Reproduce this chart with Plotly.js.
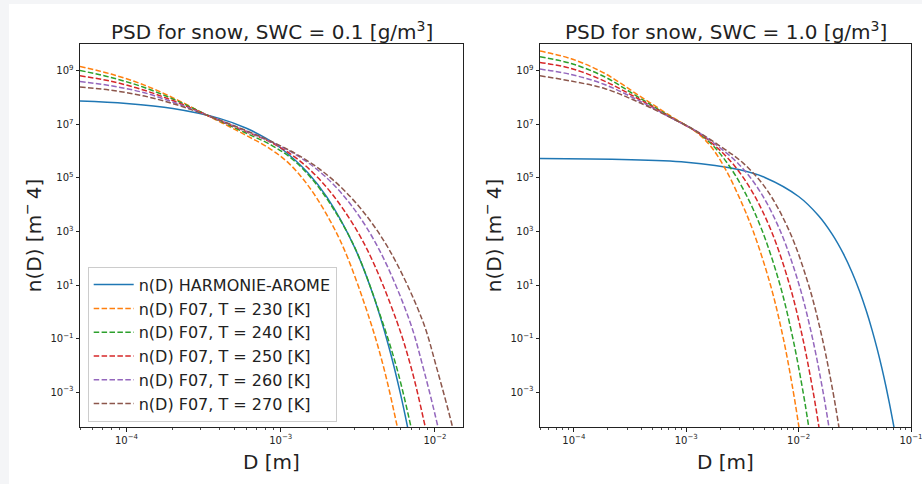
<!DOCTYPE html>
<html><head><meta charset="utf-8">
<script src="https://cdn.plot.ly/plotly-3.0.1.min.js"></script>
<style>
html,body{margin:0;padding:0;background:#f4f5f7;width:922px;height:484px;overflow:hidden}
#chart{position:absolute;left:9px;top:4px;width:913px;height:480px;background:#fff}
</style>
</head><body><div id="chart"></div>
<script>
// ---------- data ----------
const seriesNames = ['n(D) HARMONIE-AROME','n(D) F07, T = 230 [K]','n(D) F07, T = 240 [K]',
                     'n(D) F07, T = 250 [K]','n(D) F07, T = 260 [K]','n(D) F07, T = 270 [K]'];
const panelTitles = ['PSD for snow, SWC = 0.1 [g/m<sup>3</sup>]','PSD for snow, SWC = 1.0 [g/m<sup>3</sup>]'];
const xLabel = 'D [m]';
const yLabel = 'n(D) [m<sup>−</sup>\u20094]';

// Left panel: SWC = 0.1 g/m3
const left_harmonie_D = [5e-5,1e-4,2e-4,4e-4,6e-4,8e-4,1e-3,1.5e-3,2e-3,3e-3,4e-3,5e-3,6e-3,7e-3];
const left_harmonie_n = [7.38e7,5.97e7,3.90e7,1.67e7,7.14e6,3.05e6,1.31e6,1.57e5,1.87e4,269,3.85,0.0552,7.91e-4,1.14e-5];
const left_230_D = [5e-5,7.95e-5,1.307e-4,2.148e-4,3.528e-4,5.803e-4,8.628e-4,1.135e-3,1.494e-3,1.967e-3,2.588e-3,3.784e-3,4.696e-3,5.702e-3,6.03e-3];
const left_230_n = [1.447e9,7.53e8,2.92e8,8.05e7,1.834e7,4.25e6,1.170e6,3.42e5,5.50e4,4.72e3,206,0.501,6.80e-3,5.05e-5,1e-5];
const left_240_D = [5e-5,7.95e-5,1.307e-4,2.148e-4,3.528e-4,5.803e-4,8.628e-4,1.185e-3,1.628e-3,2.236e-3,3.072e-3,4.524e-3,5.702e-3,6.994e-3,7.41e-3];
const left_240_n = [1.026e9,5.62e8,2.38e8,7.39e7,1.914e7,5.05e6,1.72e6,5.12e5,7.93e4,6.01e3,206,0.501,6.80e-3,5.05e-5,1e-5];
const left_250_D = [5e-5,7.95e-5,1.307e-4,2.148e-4,3.528e-4,5.803e-4,8.628e-4,1.238e-3,1.774e-3,2.542e-3,3.646e-3,5.617e-3,7.077e-3,8.654e-3,9.19e-3];
const left_250_n = [6.51e8,4.05e8,1.87e8,6.55e7,1.914e7,5.74e6,2.14e6,5.93e5,9.21e4,6.83e3,206,0.501,6.80e-3,5.05e-5,1e-5];
const left_260_D = [5e-5,7.95e-5,1.307e-4,2.148e-4,3.528e-4,5.803e-4,8.628e-4,1.294e-3,1.939e-3,2.906e-3,4.359e-3,6.82e-3,8.463e-3,1.046e-2,1.110e-2];
const left_260_n = [3.99e8,2.75e8,1.51e8,5.86e7,1.914e7,6.00e6,2.23e6,6.63e5,1.147e5,8.62e3,206,0.501,6.80e-3,5.05e-5,1e-5];
const left_270_D = [5e-5,7.95e-5,1.307e-4,2.148e-4,3.528e-4,5.803e-4,8.628e-4,1.343e-3,2.089e-3,3.251e-3,5.06e-3,8.276e-3,1.035e-2,1.300e-2,1.384e-2];
const left_270_n = [2.46e8,1.87e8,1.136e8,5.24e7,1.914e7,6.26e6,2.33e6,6.35e5,1.053e5,7.98e3,206,0.501,6.80e-3,5.05e-5,1e-5];

// Right panel: SWC = 1.0 g/m3
const right_harmonie_D = [5e-5,1e-3,3e-3,5e-3,1e-2,1.5e-2,2e-2,2.5e-2,3e-2,3.5e-2,4e-2,4.5e-2,5e-2,5.5e-2,6e-2,6.5e-2,7e-2,7.5e-2];
const right_harmonie_n = [5.25e5,3.85e5,2.00e5,1.04e5,2.02e4,3.93e3,762,148,28.8,5.61,1.09,0.212,0.0412,8.02e-3,1.56e-3,3.03e-4,5.90e-5,1.15e-5];
const right_230_D = [5e-5,9.46e-5,1.875e-4,3.708e-4,7.333e-4,1.267e-3,1.680e-3,2.232e-3,2.964e-3,3.931e-3,5.612e-3,7.301e-3,8.974e-3,1.006e-2,1.065e-2];
const right_230_n = [5.44e9,2.81e9,8.07e8,1.269e8,2.00e7,4.63e6,1.390e6,2.132e5,1.869e4,1.058e3,10.2,0.104,1.026e-3,5.05e-5,1e-5];
const right_240_D = [5e-5,9.46e-5,1.875e-4,3.708e-4,7.333e-4,1.267e-3,1.761e-3,2.452e-3,3.412e-3,4.746e-3,6.827e-3,8.881e-3,1.0951e-2,1.230e-2,1.30e-2];
const right_240_n = [3.33e9,1.874e9,5.97e8,1.069e8,1.866e7,4.96e6,1.476e6,2.554e5,2.358e4,1.058e3,10.2,0.104,1.026e-3,5.05e-5,1e-5];
const right_250_D = [5e-5,9.46e-5,1.875e-4,3.708e-4,7.333e-4,1.267e-3,1.846e-3,2.689e-3,3.915e-3,5.706e-3,8.309e-3,1.0879e-2,1.3468e-2,1.5156e-2,1.603e-2];
const right_250_n = [2.04e9,1.219e9,4.12e8,9.24e7,1.803e7,4.96e6,1.455e6,2.831e5,2.777e4,1.058e3,10.2,0.104,1.026e-3,5.05e-5,1e-5];
const right_260_D = [5e-5,9.46e-5,1.875e-4,3.708e-4,7.333e-4,1.267e-3,1.931e-3,2.948e-3,4.498e-3,6.862e-3,1.0096e-2,1.3287e-2,1.6503e-2,1.860e-2,1.968e-2];
const right_260_n = [1.157e9,7.28e8,3.08e8,8.05e7,1.756e7,5.14e6,1.482e6,3.193e5,3.298e4,1.058e3,10.2,0.104,1.026e-3,5.05e-5,1e-5];
const right_270_D = [5e-5,9.46e-5,1.875e-4,3.708e-4,7.333e-4,1.267e-3,2.025e-3,3.232e-3,5.161e-3,8.248e-3,1.2262e-2,1.6225e-2,2.0217e-2,2.282e-2,2.413e-2];
const right_270_n = [6.51e8,4.12e8,2.18e8,6.95e7,1.756e7,5.27e6,1.488e6,3.494e5,3.816e4,1.058e3,10.2,0.104,1.026e-3,5.05e-5,1e-5];

// ticks
const yTickVals = [1e-3,1e-1,1e1,1e3,1e5,1e7,1e9];
const yTickText = ['10<sup>−3</sup>','10<sup>−1</sup>','10<sup>1</sup>','10<sup>3</sup>','10<sup>5</sup>','10<sup>7</sup>','10<sup>9</sup>'];
const xTickVals = [1e-4,1e-3,1e-2,1e-1];
const xTickText = ['10<sup>−4</sup>','10<sup>−3</sup>','10<sup>−2</sup>','10<sup>−1</sup>'];
const xMinorVals = [5e-5,6e-5,7e-5,8e-5,9e-5,
  2e-4,3e-4,4e-4,5e-4,6e-4,7e-4,8e-4,9e-4,
  2e-3,3e-3,4e-3,5e-3,6e-3,7e-3,8e-3,9e-3,
  2e-2,3e-2,4e-2,5e-2,6e-2,7e-2,8e-2,9e-2];

// ---------- styles ----------
const colors = ['#1f77b4','#ff7f0e','#2ca02c','#d62728','#9467bd','#8c564b'];
const dashes = ['solid','5.5px,2.4px','5.5px,2.4px','5.5px,2.4px','5.5px,2.4px','5.5px,2.4px'];
const FONT = 'DejaVu Sans, sans-serif';
const INK = '#222222';

const leftSets = [[left_harmonie_D,left_harmonie_n],[left_230_D,left_230_n],[left_240_D,left_240_n],
                  [left_250_D,left_250_n],[left_260_D,left_260_n],[left_270_D,left_270_n]];
const rightSets = [[right_harmonie_D,right_harmonie_n],[right_230_D,right_230_n],[right_240_D,right_240_n],
                   [right_250_D,right_250_n],[right_260_D,right_260_n],[right_270_D,right_270_n]];

const traces = [];
leftSets.forEach((s,i)=>traces.push({type:'scatter',mode:'lines',x:s[0],y:s[1],name:seriesNames[i],
  xaxis:'x',yaxis:'y',showlegend:true,hoverinfo:'skip',
  line:{color:colors[i],width:1.5,dash:dashes[i],shape:'spline',smoothing:1}}));
rightSets.forEach((s,i)=>traces.push({type:'scatter',mode:'lines',x:s[0],y:s[1],name:seriesNames[i],
  xaxis:'x2',yaxis:'y2',showlegend:false,hoverinfo:'skip',
  line:{color:colors[i],width:1.5,dash:dashes[i],shape:'spline',smoothing:1}}));

const W = 913, H = 480;
function xAxis(domain, range, anchor){
  return {type:'log',domain:domain,range:range,anchor:anchor,
    tickmode:'array',tickvals:xTickVals,ticktext:xTickText,ticklabeloverflow:'allow',
    ticks:'outside',ticklen:3.5,tickwidth:1,tickcolor:INK,
    showline:true,mirror:true,linecolor:INK,linewidth:1,
    showgrid:false,zeroline:false,fixedrange:true,
    tickfont:{family:FONT,size:10,color:INK},
    minor:{tickmode:'array',tickvals:xMinorVals,ticks:'outside',ticklen:2,tickwidth:0.8,tickcolor:INK,showgrid:false}};
}
function yAxis(domain, anchor){
  return {type:'log',domain:domain,range:[Math.log10(5e-5),10],anchor:anchor,
    tickmode:'array',tickvals:yTickVals,ticktext:yTickText,
    ticks:'outside',ticklen:3.5,tickwidth:1,tickcolor:INK,
    showline:true,mirror:true,linecolor:INK,linewidth:1,
    showgrid:false,zeroline:false,fixedrange:true,
    tickfont:{family:FONT,size:10,color:INK}};
}
const yDom = [1-423/H, 1-40/H];
const xDomL = [71/W, 454/W];
const xDomR = [531/W, 902/W];

const annotations = [
  {text:panelTitles[0],x:262.5/W,y:0.9440,xref:'paper',yref:'paper',xanchor:'center',yanchor:'middle',showarrow:false,font:{family:FONT,size:20,color:INK}},
  {text:panelTitles[1],x:716.5/W,y:0.9440,xref:'paper',yref:'paper',xanchor:'center',yanchor:'middle',showarrow:false,font:{family:FONT,size:20,color:INK}},
  {text:xLabel,x:262.5/W,y:0.0460,xref:'paper',yref:'paper',xanchor:'center',yanchor:'middle',showarrow:false,font:{family:FONT,size:20,color:INK}},
  {text:xLabel,x:716.5/W,y:0.0460,xref:'paper',yref:'paper',xanchor:'center',yanchor:'middle',showarrow:false,font:{family:FONT,size:20,color:INK}},
  {text:yLabel,x:22.7/W,y:0.5177,xref:'paper',yref:'paper',xanchor:'center',yanchor:'middle',textangle:-90,showarrow:false,font:{family:FONT,size:20,color:INK}},
  {text:yLabel,x:482.7/W,y:0.5177,xref:'paper',yref:'paper',xanchor:'center',yanchor:'middle',textangle:-90,showarrow:false,font:{family:FONT,size:20,color:INK}}
];

const layout = {
  width:W,height:H,margin:{l:0,r:0,t:0,b:0},
  paper_bgcolor:'#ffffff',plot_bgcolor:'#ffffff',
  font:{family:FONT,color:INK},
  xaxis:xAxis(xDomL,[Math.log10(5e-5),-1.818],'y'),
  yaxis:yAxis(yDom,'x'),
  xaxis2:xAxis(xDomR,[Math.log10(5e-5),-1],'y2'),
  yaxis2:yAxis(yDom,'x2'),
  showlegend:true,
  legend:{x:78.7/W,y:1-262.7/H,xanchor:'left',yanchor:'top',
    bgcolor:'rgba(255,255,255,0.8)',bordercolor:'#cccccc',borderwidth:1,
    font:{family:FONT,size:16,color:INK},itemwidth:40},
  annotations:annotations
};
Plotly.newPlot('chart',traces,layout,{staticPlot:true,displayModeBar:false});
</script></body></html>
